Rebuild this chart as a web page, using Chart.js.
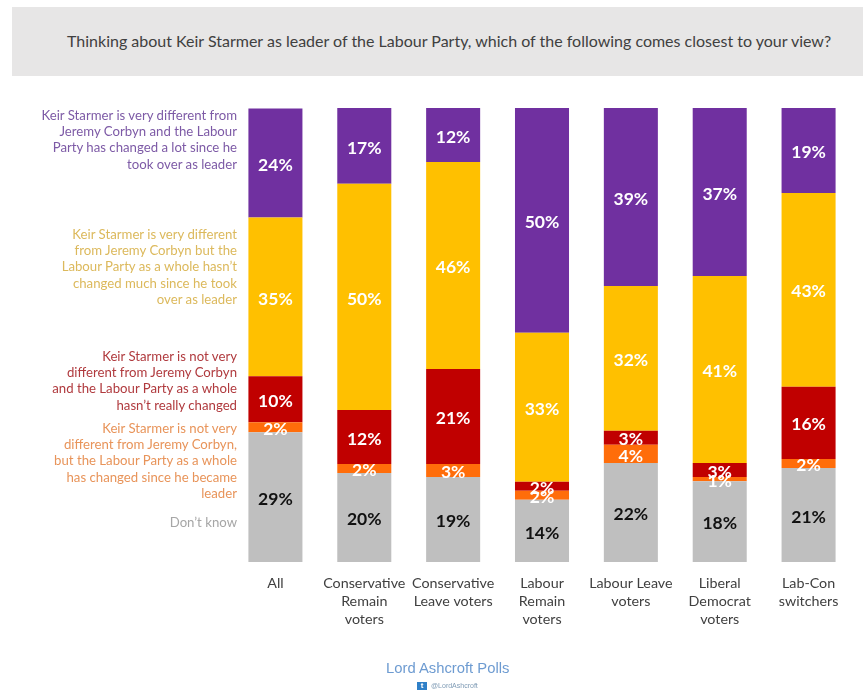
<!DOCTYPE html>
<html><head><meta charset="utf-8">
<script src="https://cdn.jsdelivr.net/npm/chart.js@4"></script>
<style>
html,body{margin:0;padding:0;background:#fff;width:863px;height:690px;overflow:hidden;font-family:Lato,sans-serif}
#wrap{position:relative;width:863px;height:690px}
#band{position:absolute;left:12px;top:7px;width:851px;height:69px;background:#e7e6e6}
#title{position:absolute;left:67px;top:31px;font-size:16px;line-height:20px;color:#404040;white-space:nowrap}
canvas{position:absolute;left:0;top:0}
.side{position:absolute;right:626px;text-align:right;font-size:13.2px;line-height:16.2px;white-space:nowrap}
#foot{position:absolute;left:386px;top:660px;font-family:"Liberation Sans",sans-serif;font-size:14.8px;line-height:17px;color:#6d9bd1;white-space:nowrap}
#tw{position:absolute;left:417px;top:682px;width:10px;height:8px;background:#2f80c8;color:#fff;font:bold 8px/8px "Liberation Sans",sans-serif;text-align:center}
#handle{position:absolute;left:431px;top:682px;font-family:"Liberation Sans",sans-serif;font-size:7px;line-height:8px;color:#7f9bb5;white-space:nowrap}
</style></head><body>
<div id="wrap">
<div id="band"></div>
<div id="title">Thinking about Keir Starmer as leader of the Labour Party, which of the following comes closest to your view?</div>
<canvas id="c" width="863" height="690"></canvas>
<div class="side" style="top:107px;color:#7d5aa6">Keir Starmer is very different from<br>Jeremy Corbyn and the Labour<br>Party has changed a lot since he<br>took over as leader</div>
<div class="side" style="top:226px;color:#dcb95c">Keir Starmer is very different<br>from Jeremy Corbyn but the<br>Labour Party as a whole hasn’t<br>changed much since he took<br>over as leader</div>
<div class="side" style="top:348px;color:#b03a3e">Keir Starmer is not very<br>different from Jeremy Corbyn<br>and the Labour Party as a whole<br>hasn’t really changed</div>
<div class="side" style="top:420px;color:#e8945a">Keir Starmer is not very<br>different from Jeremy Corbyn,<br>but the Labour Party as a whole<br>has changed since he became<br>leader</div>
<div class="side" style="top:514px;color:#a6a6a6">Don’t know</div>
<div id="foot">Lord Ashcroft Polls</div>
<div id="tw">t</div>
<div id="handle">@LordAshcroft</div>
</div>
<script>
const categories=[["All"],["Conservative","Remain","voters"],["Conservative","Leave voters"],["Labour","Remain","voters"],["Labour Leave","voters"],["Liberal","Democrat","voters"],["Lab-Con","switchers"]];
const dontKnow=[28.6,19.6,18.7,13.7,21.8,17.8,20.7];
const notDifferentChanged=[2.2,2.0,2.9,2.0,4.0,0.9,2.0];
const notDifferentSame=[10.1,11.9,20.9,2.0,3.1,3.1,15.9];
const differentSame=[35.0,49.8,45.6,32.8,31.9,41.2,42.7];
const differentChanged=[24.0,16.7,11.9,49.6,39.2,37.0,18.7];
const seriesNames=["Don't know","Not very different, Labour changed","Not very different, Labour not changed","Very different, Labour not changed","Very different, Labour changed a lot"];
const seriesColors=["#bfbfbf","#ff6d0a","#c00000","#ffc000","#7030a0"];
const labelColors=["#111111","#ffffff","#ffffff","#ffffff","#ffffff"];
const seriesValues=[dontKnow,notDifferentChanged,notDifferentSame,differentSame,differentChanged];
const valueLabels={id:"valueLabels",afterDatasetsDraw(chart){
  const ctx=chart.ctx;ctx.save();
  ctx.textAlign="center";ctx.textBaseline="middle";ctx.font="bold 17.5px Lato, sans-serif";
  chart.data.datasets.forEach((ds,i)=>{
    chart.getDatasetMeta(i).data.forEach((el,j)=>{
      ctx.fillStyle=labelColors[i];
      ctx.fillText(Math.round(ds.data[j])+"%",el.x,(el.y+el.base)/2+2);
    });
  });
  ctx.restore();
}};
new Chart(document.getElementById("c"),{
  type:"bar",
  data:{labels:categories,datasets:seriesValues.map((v,i)=>({label:seriesNames[i],data:v,backgroundColor:seriesColors[i],borderWidth:0,barPercentage:0.608,categoryPercentage:1}))},
  options:{
    responsive:false,animation:false,
    layout:{padding:{left:231,right:10,top:108,bottom:0}},
    plugins:{legend:{display:false},tooltip:{enabled:false}},
    scales:{
      x:{stacked:true,grid:{display:false},border:{display:false},
         afterFit(a){a.height=128;},
         ticks:{color:"#404040",font:{family:"Lato, sans-serif",size:14.3,lineHeight:1.27},padding:4,maxRotation:0,minRotation:0,autoSkip:false}},
      y:{stacked:true,display:false,min:0,max:100}
    }
  },
  plugins:[valueLabels]
});
</script>
</body></html>
